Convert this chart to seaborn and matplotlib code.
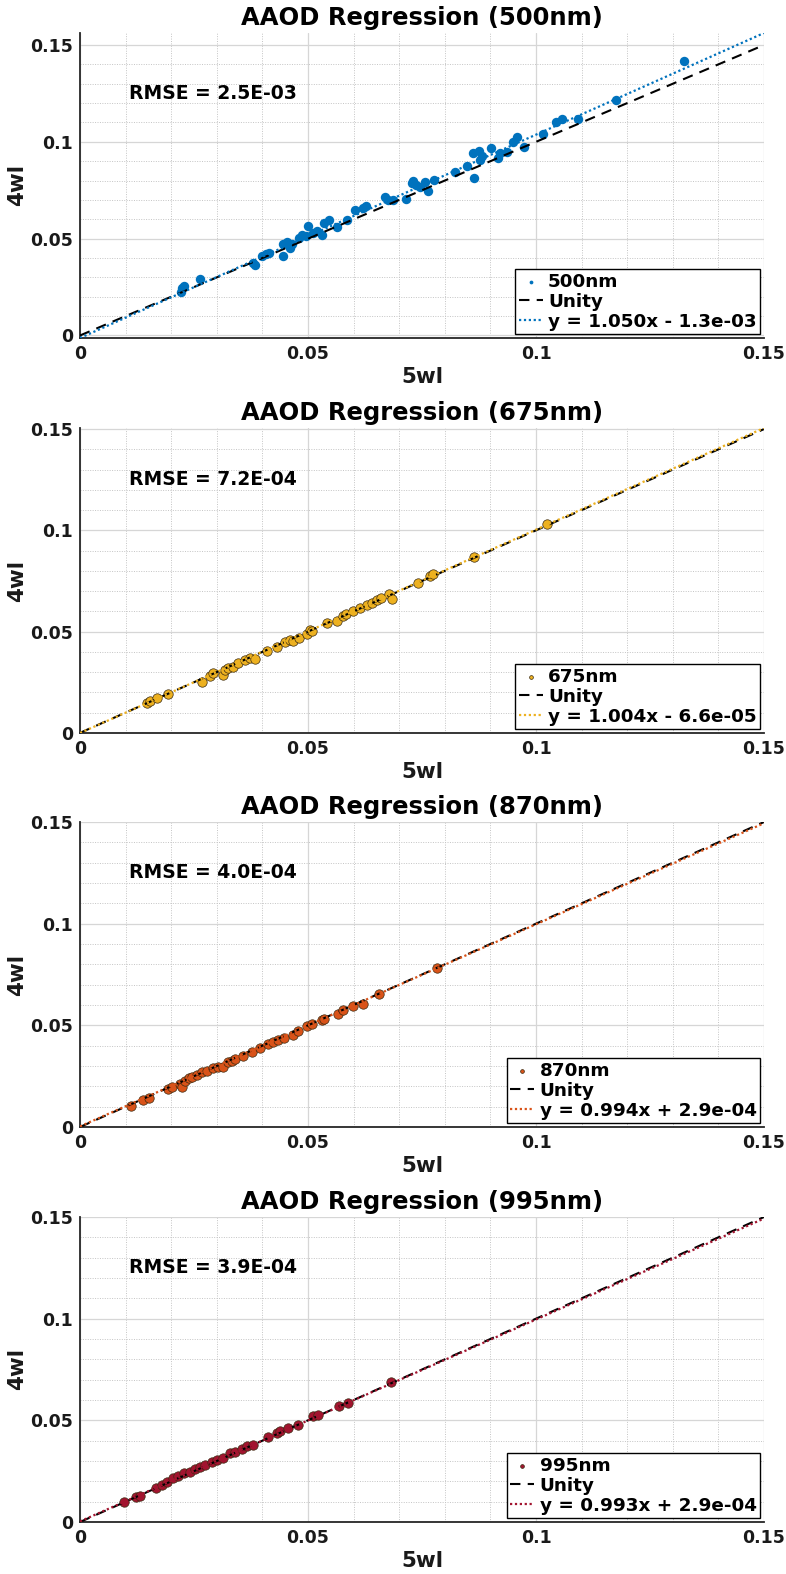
import numpy as np
import pandas as pd
import matplotlib
matplotlib.use("Agg")
import matplotlib.pyplot as plt
import seaborn as sns
from matplotlib.ticker import MultipleLocator, FixedLocator

sns.set_theme(style="white")
plt.rcParams['font.family'] = ['DejaVu Sans']
plt.rcParams['font.weight'] = 'bold'
plt.rcParams['text.color'] = 'black'

# ---------------- data ----------------
wavelengths = ["500nm", "675nm", "870nm", "995nm"]
colors = ["#0072BD", "#EDB120", "#D95319", "#A2142F"]
slopes = [1.050, 1.004, 0.994, 0.993]
intercepts = [-1.3e-03, -6.6e-05, 2.9e-04, 2.9e-04]
rmse = [2.5e-03, 7.2e-04, 4.0e-04, 3.9e-04]

x500 = [0.0224, 0.0227, 0.0222, 0.0263, 0.0380, 0.0384, 0.0400, 0.0407, 0.0414, 0.0446,
        0.0446, 0.0453, 0.0461, 0.0466, 0.0480, 0.0487, 0.0500, 0.0495, 0.0510, 0.0520,
        0.0530, 0.0534, 0.0547, 0.0564, 0.0586, 0.0603, 0.0620, 0.0627, 0.0669, 0.0676,
        0.0686, 0.0714, 0.0727, 0.0730, 0.0737, 0.0745, 0.0757, 0.0763, 0.0776, 0.0822,
        0.0848, 0.0861, 0.0863, 0.0877, 0.0875, 0.0882, 0.0902, 0.0917, 0.0922, 0.0936,
        0.0949, 0.0959, 0.0973, 0.1015, 0.1044, 0.1057, 0.1093, 0.1176, 0.1325]
y500 = [0.0244, 0.0255, 0.0227, 0.0290, 0.0376, 0.0364, 0.0410, 0.0419, 0.0426, 0.0409,
        0.0474, 0.0484, 0.0453, 0.0470, 0.0504, 0.0518, 0.0564, 0.0513, 0.0530, 0.0538,
        0.0521, 0.0581, 0.0598, 0.0559, 0.0598, 0.0650, 0.0658, 0.0667, 0.0713, 0.0701,
        0.0701, 0.0706, 0.0786, 0.0798, 0.0778, 0.0769, 0.0791, 0.0744, 0.0803, 0.0846,
        0.0877, 0.0940, 0.0812, 0.0906, 0.0952, 0.0928, 0.0969, 0.0915, 0.0940, 0.0949,
        0.1000, 0.1026, 0.0974, 0.1043, 0.1103, 0.1116, 0.1116, 0.1214, 0.1416]

x675 = [0.0148, 0.0154, 0.0168, 0.0192, 0.0267, 0.0285, 0.0291, 0.0314, 0.0318, 0.0325,
        0.0336, 0.0347, 0.0362, 0.0373, 0.0384, 0.0409, 0.0431, 0.0450, 0.0461, 0.0468,
        0.0481, 0.0497, 0.0504, 0.0508, 0.0541, 0.0563, 0.0577, 0.0583, 0.0599, 0.0614,
        0.0629, 0.0640, 0.0651, 0.0659, 0.0678, 0.0684, 0.0742, 0.0768, 0.0775, 0.0865,
        0.1025]
y675 = [0.0146, 0.0159, 0.0171, 0.0192, 0.0252, 0.0280, 0.0294, 0.0285, 0.0310, 0.0321,
        0.0326, 0.0346, 0.0359, 0.0372, 0.0367, 0.0403, 0.0425, 0.0449, 0.0461, 0.0454,
        0.0469, 0.0490, 0.0510, 0.0503, 0.0543, 0.0551, 0.0576, 0.0585, 0.0602, 0.0616,
        0.0630, 0.0643, 0.0654, 0.0664, 0.0684, 0.0662, 0.0739, 0.0777, 0.0786, 0.0866,
        0.1032]

x870 = [0.0112, 0.0139, 0.0152, 0.0194, 0.0201, 0.0219, 0.0223, 0.0230, 0.0238, 0.0245,
        0.0256, 0.0267, 0.0278, 0.0292, 0.0303, 0.0314, 0.0325, 0.0333, 0.0340, 0.0358,
        0.0377, 0.0395, 0.0413, 0.0424, 0.0435, 0.0447, 0.0468, 0.0479, 0.0497, 0.0508,
        0.0530, 0.0535, 0.0566, 0.0576, 0.0598, 0.0620, 0.0656, 0.0782]
y870 = [0.0104, 0.0132, 0.0142, 0.0187, 0.0198, 0.0211, 0.0198, 0.0228, 0.0239, 0.0244,
        0.0257, 0.0269, 0.0277, 0.0291, 0.0297, 0.0294, 0.0318, 0.0327, 0.0335, 0.0347,
        0.0368, 0.0390, 0.0406, 0.0417, 0.0426, 0.0439, 0.0454, 0.0470, 0.0495, 0.0505,
        0.0525, 0.0533, 0.0558, 0.0574, 0.0594, 0.0604, 0.0652, 0.0784]

x995 = [0.0096, 0.0123, 0.0132, 0.0167, 0.0179, 0.0190, 0.0205, 0.0216, 0.0227, 0.0241,
        0.0252, 0.0263, 0.0274, 0.0289, 0.0301, 0.0314, 0.0329, 0.0340, 0.0355, 0.0366,
        0.0379, 0.0413, 0.0431, 0.0439, 0.0457, 0.0477, 0.0512, 0.0523, 0.0569, 0.0588,
        0.0681]
y995 = [0.0097, 0.0125, 0.0130, 0.0166, 0.0183, 0.0199, 0.0216, 0.0228, 0.0240, 0.0248,
        0.0260, 0.0270, 0.0281, 0.0293, 0.0306, 0.0314, 0.0339, 0.0342, 0.0360, 0.0372,
        0.0380, 0.0418, 0.0437, 0.0449, 0.0462, 0.0479, 0.0520, 0.0528, 0.0572, 0.0586,
        0.0689]

xs = [x500, x675, x870, x995]
ys = [y500, y675, y870, y995]
line_x = [0.0, 0.15]
tick_vals = [0, 0.05, 0.1, 0.15]
tick_labels = ["0", "0.05", "0.1", "0.15"]

# ---------------- figure ----------------
W, H = 786, 1574
fig = plt.figure(figsize=(W / 100, H / 100), dpi=100)
left_px, width_px, height_px = 80, 684, 305
tops = [33, 428, 822, 1217]

for i in range(4):
    ax = fig.add_axes([left_px / W, 1 - (tops[i] + height_px) / H, width_px / W, height_px / H])
    df = pd.DataFrame({"x": xs[i], "y": ys[i]})
    edge = colors[i] if i == 0 else "#3a2a10"
    sns.scatterplot(data=df, x="x", y="y", ax=ax, color=colors[i], s=46,
                    edgecolor=edge, linewidth=0.5 if i > 0 else 0, label=wavelengths[i], zorder=3)
    ax.plot(line_x, line_x, color="black", linestyle=(0, (5, 3.5)), linewidth=1.5,
            label="Unity", zorder=4)
    m, b = slopes[i], intercepts[i]
    fy = [m * v + b for v in line_x]
    sign = "-" if b < 0 else "+"
    ax.plot(line_x, fy, color=colors[i], linestyle=(0, (1, 1.2)), linewidth=1.6,
            label=f"y = {m:.3f}x {sign} {abs(b):.1e}", zorder=5)

    ax.set_xlim(0, 0.15)
    ax.set_ylim(min(0, b), max(0.15, m * 0.15 + b))
    ax.xaxis.set_major_locator(FixedLocator(tick_vals))
    ax.yaxis.set_major_locator(FixedLocator(tick_vals))
    ax.set_xticklabels(tick_labels)
    ax.set_yticklabels(tick_labels)
    ax.xaxis.set_minor_locator(MultipleLocator(0.01))
    ax.yaxis.set_minor_locator(MultipleLocator(0.01))
    ax.grid(which="major", color="#d6d6d6", linewidth=0.9, linestyle="-")
    ax.grid(which="minor", color="#c4c4c4", linewidth=0.7, linestyle=(0, (1, 1.5)))
    ax.set_axisbelow(True)
    ax.tick_params(which="major", direction="in", length=6, width=1.1, color="#262626",
                   labelcolor="#1a1a1a", labelsize=12.5, pad=5)
    ax.tick_params(which="minor", length=0)
    for lab in ax.get_xticklabels() + ax.get_yticklabels():
        lab.set_fontweight("bold")
    for s in ["top", "right"]:
        ax.spines[s].set_visible(False)
    for s in ["left", "bottom"]:
        ax.spines[s].set_color("#262626")
        ax.spines[s].set_linewidth(1.3)

    ax.set_title(f"AAOD Regression ({wavelengths[i]})", fontsize=17.5, fontweight="bold",
                 pad=6, color="black")
    ax.set_xlabel("5wl", fontsize=15.5, fontweight="bold", labelpad=3, color="#1a1a1a")
    ax.set_ylabel("4wl", fontsize=15.5, fontweight="bold", labelpad=2, color="#1a1a1a")
    ax.text(0.0107, 0.125, f"RMSE = {rmse[i]:.1E}", fontsize=13.5, fontweight="bold",
            ha="left", va="center", color="black")

    leg = ax.legend(loc="lower right", frameon=True, fancybox=False,
                    edgecolor="black", framealpha=1, borderaxespad=0.2, handlelength=1.3,
                    handletextpad=0.3, labelspacing=0.1, borderpad=0.2, markerscale=0.4,
                    prop={"weight": "bold", "size": 13.2})
    leg.get_frame().set_linewidth(1.0)

fig.savefig("out.png", dpi=100)
